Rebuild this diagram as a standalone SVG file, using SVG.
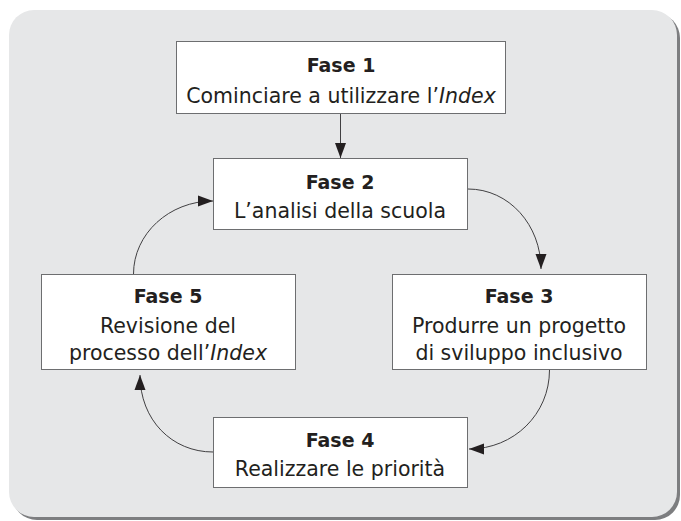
<svg xmlns="http://www.w3.org/2000/svg" width="681" height="521" viewBox="0 0 681 521">
<style>
.box{fill:#fff;stroke:#6d6e70;stroke-width:1}
.t{font-family:"DejaVu Sans","Liberation Sans",Arial,sans-serif;font-size:20.5px;fill:#231f20;text-anchor:middle}
.b{font-weight:bold;font-size:19px}
.c{fill:none;stroke:#414042;stroke-width:1}
</style>
<defs>
<marker id="ah" markerWidth="16" markerHeight="12" refX="15" refY="6" orient="auto" markerUnits="userSpaceOnUse">
<path d="M0,0.5 L15,6 L0,11.5 Z" fill="#231f20"/>
</marker>
</defs>
<rect x="12" y="13" width="668" height="507" rx="25" fill="#7d7e80"/>
<rect x="9" y="10" width="668" height="507" rx="25" fill="#e6e7e8"/>
<g id="fase1">
<rect class="box" x="176.5" y="41.5" width="329" height="72"/>
<text class="t b" x="341" y="72">Fase 1</text>
<text class="t" x="341" y="103">Cominciare a utilizzare l’<tspan font-style="italic">Index</tspan></text>
</g>
<g id="fase2">
<rect class="box" x="213.5" y="158.5" width="254" height="71"/>
<text class="t b" x="340" y="189">Fase 2</text>
<text class="t" x="340" y="218">L’analisi della scuola</text>
</g>
<g id="fase3">
<rect class="box" x="392.5" y="274.5" width="254" height="95"/>
<text class="t b" x="519" y="303">Fase 3</text>
<text class="t" x="519" y="333">Produrre un progetto</text>
<text class="t" x="519" y="360">di sviluppo inclusivo</text>
</g>
<g id="fase4">
<rect class="box" x="213.5" y="417.5" width="254" height="70"/>
<text class="t b" x="340" y="447">Fase 4</text>
<text class="t" x="340" y="476">Realizzare le priorità</text>
</g>
<g id="fase5">
<rect class="box" x="41.5" y="274.5" width="254" height="95"/>
<text class="t b" x="168" y="303">Fase 5</text>
<text class="t" x="168" y="333">Revisione del</text>
<text class="t" x="168" y="360">processo dell’<tspan font-style="italic">Index</tspan></text>
</g>
<g id="connectors">
<path class="c" d="M340.5,114 L340.5,158" marker-end="url(#ah)"/>
<path class="c" d="M468,189 C509,189 541,225 541,269" marker-end="url(#ah)"/>
<path class="c" d="M549.5,370 C549.5,414 514,449 469,449" marker-end="url(#ah)"/>
<path class="c" d="M213,452 C172,452 140,420 140,375" marker-end="url(#ah)"/>
<path class="c" d="M133.5,274 C133.5,234 169,201 213,201" marker-end="url(#ah)"/>
</g>
</svg>
